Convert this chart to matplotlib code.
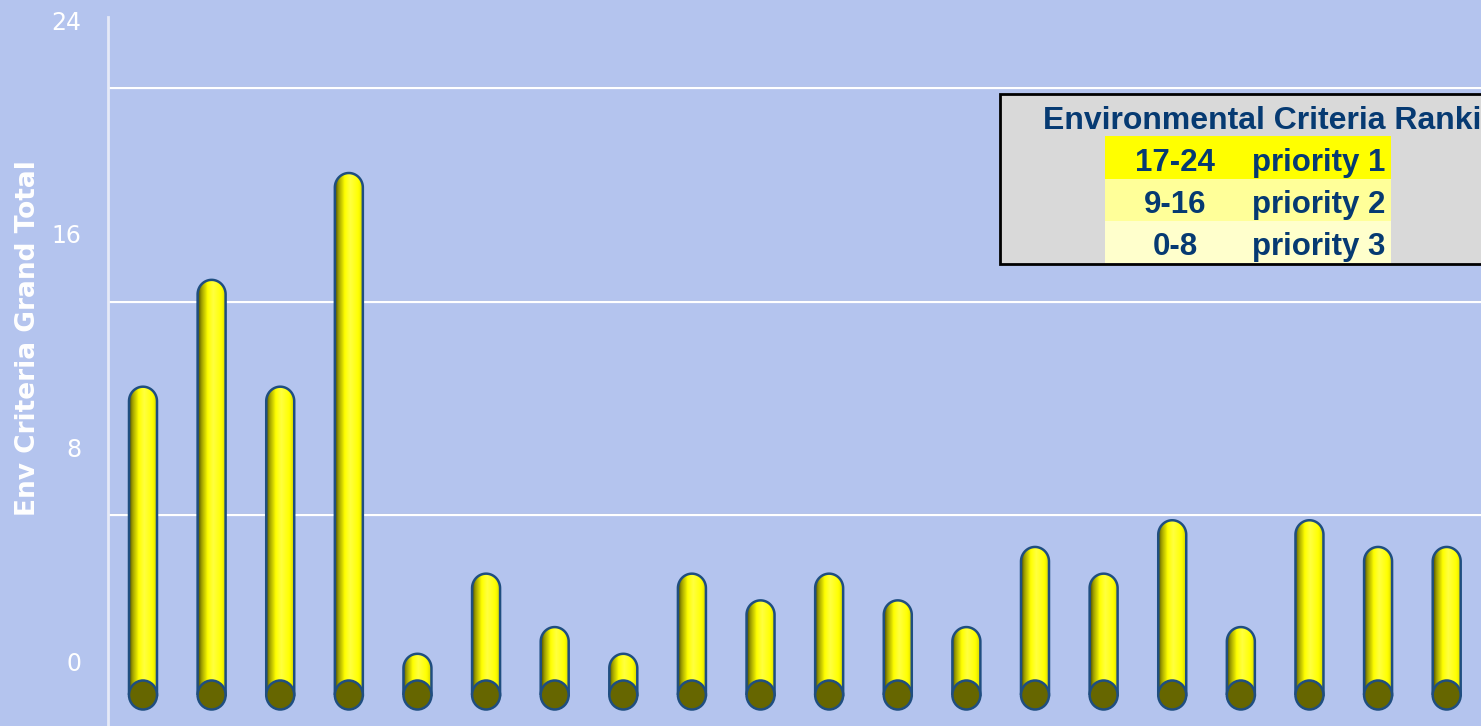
import numpy as np
import matplotlib
matplotlib.use("Agg")
import matplotlib.pyplot as plt
from matplotlib.path import Path
from matplotlib.patches import PathPatch, Ellipse, Rectangle

# data
env_totals = [11, 15, 11, 19, 1, 4, 2, 1, 4, 3, 4, 3, 2, 5, 4, 6, 2, 6, 5, 5]
tick_values = [0, 8, 16, 24]
rank_ranges = ["17-24", "9-16", "0-8"]
rank_labels = ["priority 1", "priority 2", "priority 3"]
rank_colors = ["#FFFF00", "#FFFF99", "#FFFFCC"]

BG = "#B4C4EE"
NAVY = "#063A72"
OUTLINE = "#1F4E80"
DEPTH = 1.27          # 3d offset of the back wall (in value units)
PX_PER_UNIT = 26.71

W, H = 1481, 726
fig = plt.figure(figsize=(W / 100, H / 100), dpi=100, facecolor=BG)
ax = fig.add_axes([108 / W, 0, 1 - 108 / W, 1])
ax.set_facecolor("none")

bar_w = 28 / 68.63
cap_h = 29 / PX_PER_UNIT

# horizontal shading for the cylinders
stops = [0.0, 0.12, 0.35, 0.55, 0.85, 1.0]
cols = np.array([[0.30, 0.30, 0.0], [0.62, 0.62, 0.0], [1.0, 1.0, 0.0],
                 [1.0, 1.0, 0.25], [1.0, 1.0, 0.0], [0.85, 0.85, 0.0]])
xs = np.linspace(0, 1, 64)
grad = np.stack([np.interp(xs, stops, cols[:, c]) for c in range(3)], axis=-1)[None, :, :]

t = np.linspace(np.pi, 0, 40)
for i, v in enumerate(env_totals):
    x0, x1 = i - bar_w / 2, i + bar_w / 2
    arc = np.column_stack([i + bar_w / 2 * np.cos(t), v + cap_h / 2 * np.sin(t)])
    verts = np.vstack([[x0, 0], [x0, v], arc, [x1, v], [x1, 0], [x0, 0]])
    path = Path(verts)
    body = PathPatch(path, facecolor="none", edgecolor=OUTLINE, lw=1.8, zorder=4)
    ax.add_patch(body)
    im = ax.imshow(grad, extent=[x0, x1, 0, v + cap_h / 2], aspect="auto",
                   interpolation="bilinear", zorder=3)
    im.set_clip_path(body)
    ax.add_patch(Ellipse((i, 0), bar_w, cap_h, facecolor="#666600",
                         edgecolor=OUTLINE, lw=1.8, zorder=5))

# back wall gridlines
for k in tick_values[1:]:
    ax.axhline(k - DEPTH + 0.9 / PX_PER_UNIT, xmin=0.0015, color="#98A2C6", lw=1.0, zorder=1)
    ax.axhline(k - DEPTH, xmin=0.0015, color="white", lw=1.6, zorder=1)

ax.set_xlim(-0.51, 19.50)
ax.set_ylim(-(H - 695) / PX_PER_UNIT, 695 / PX_PER_UNIT)

ax.set_xticks([])
ax.set_yticks([v + DEPTH for v in tick_values], [str(v) for v in tick_values])
ax.tick_params(axis="y", length=0, pad=19, labelcolor="white", labelsize=17)
for s in ["top", "right", "bottom"]:
    ax.spines[s].set_visible(False)
ax.spines["left"].set_color("#E6EAF7")
ax.spines["left"].set_linewidth(2)
ax.spines["left"].set_bounds(-2, 678 / PX_PER_UNIT)

ax.set_ylabel("Env Criteria Grand Total", color="white", fontsize=19, fontweight="bold")
ax.yaxis.set_label_coords((28 - 108) / (W - 108), 1 - 338 / H)
ax.yaxis.label.set_verticalalignment("center")

# ranking table in pixel coordinates
lax = fig.add_axes([999 / W, 1 - 266 / H, (W - 999) / W, 174 / H])
lax.set_xlim(999, W)
lax.set_ylim(266, 92)
lax.axis("off")
lax.add_patch(Rectangle((1000, 94), 700, 170, facecolor="#D9D9D9",
                        edgecolor="black", lw=2, clip_on=False))
row_top = [136, 179, 221]
row_bot = [179, 221, 263]
for r in range(3):
    lax.add_patch(Rectangle((1105, row_top[r]), 286, row_bot[r] - row_top[r],
                            facecolor=rank_colors[r], edgecolor="none"))
    base = row_bot[r] - 8
    lax.text(1175, base, rank_ranges[r], ha="center", va="baseline", color=NAVY,
             fontsize=22.5, fontweight="bold", family="Liberation Sans")
    lax.text(1252, base, rank_labels[r], ha="left", va="baseline", color=NAVY,
             fontsize=22.5, fontweight="bold", family="Liberation Sans")
lax.text(1043, 129, "Environmental Criteria Ranking", ha="left", va="baseline",
         color=NAVY, fontsize=23, fontweight="bold", family="Liberation Sans",
         clip_on=False)

fig.savefig("out.png", dpi=100, facecolor=BG)
